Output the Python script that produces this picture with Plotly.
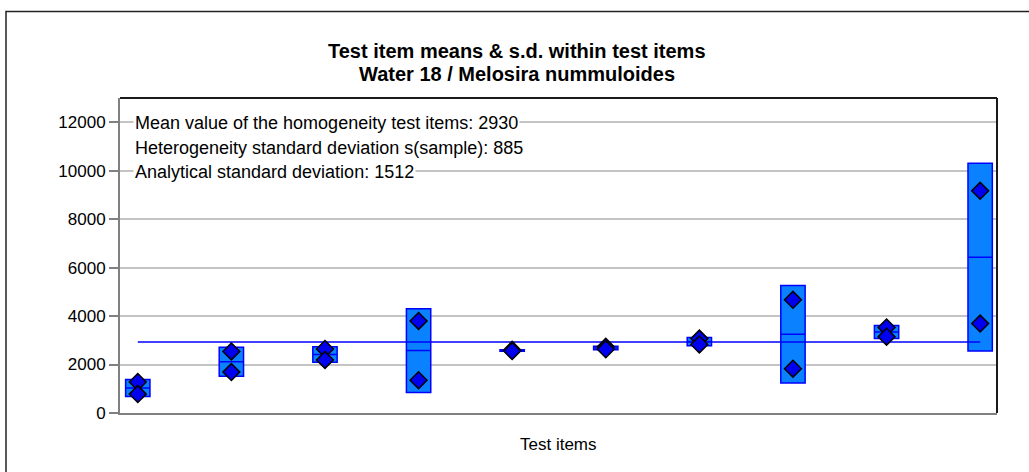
import numpy as np
import plotly.graph_objects as go

# Duplicate measurements per homogeneity test item
items = list(range(1, 11))
rep_a = [1280, 2540, 2640, 3800, 2605, 2730, 3070, 4670, 3530, 9170]
rep_b = [780, 1690, 2190, 1350, 2555, 2630, 2830, 1830, 3150, 3690]

grand_mean = 2930
stat_lines = [
    "Mean value of the homogeneity test items: 2930",
    "Heterogeneity standard deviation s(sample): 885",
    "Analytical standard deviation: 1512",
]
y_ticks = [0, 2000, 4000, 6000, 8000, 10000, 12000]

reps = np.array([rep_a, rep_b], dtype=float)
means = reps.mean(axis=0)
sds = reps.std(axis=0, ddof=1)

FONT = "Liberation Sans, Arial, sans-serif"
BOX_FILL = "#0A82FF"
BLUE = "#0000FF"

fig = go.Figure()

# mean +/- s.d. boxes with the item mean as the centre line
fig.add_trace(go.Box(
    x=items,
    q1=means - sds, median=means, q3=means + sds,
    lowerfence=means - sds, upperfence=means + sds,
    width=0.26,
    fillcolor=BOX_FILL,
    line=dict(color=BLUE, width=1.5),
    whiskerwidth=0,
    hoverinfo="skip",
    showlegend=False,
))

# overall mean of all test items
fig.add_trace(go.Scatter(
    x=[items[0], items[-1]], y=[grand_mean, grand_mean],
    mode="lines", line=dict(color=BLUE, width=1.5),
    showlegend=False, hoverinfo="skip",
))

# individual replicate results
fig.add_trace(go.Scatter(
    x=items + items, y=rep_a + rep_b,
    mode="markers",
    marker=dict(symbol="diamond", size=13, color="#0000F0",
                line=dict(color="#000000", width=1.5)),
    showlegend=False,
))

L, R, T, B = 120, 32, 98, 59
W, H = 1029, 472
pw, ph = W - L - R, H - T - B


def px_x(x):
    return (x - L) / pw


def px_y(y):
    return (H - B - y) / ph


annotations = []
for text, ypix in zip(stat_lines, [122.8, 147.5, 171.5]):
    annotations.append(dict(
        text=text, xref="paper", yref="paper",
        x=px_x(133), y=px_y(ypix), xanchor="left", yanchor="middle",
        showarrow=False, bgcolor="white", borderpad=1,
        font=dict(family=FONT, size=18, color="#000000"),
    ))

annotations += [
    dict(text="<b>Test item means & s.d. within test items</b>",
         xref="paper", yref="paper", x=px_x(517), y=px_y(50.5),
         xanchor="center", yanchor="middle", showarrow=False,
         font=dict(family=FONT, size=20, color="#000000")),
    dict(text="<b>Water 18 / Melosira nummuloides</b>",
         xref="paper", yref="paper", x=px_x(517), y=px_y(74),
         xanchor="center", yanchor="middle", showarrow=False,
         font=dict(family=FONT, size=20, color="#000000")),
    dict(text="Test items", xref="paper", yref="paper",
         x=0.5, y=px_y(444), xanchor="center", yanchor="middle",
         showarrow=False, font=dict(family=FONT, size=17, color="#000000")),
]

shapes = [
    # outer chart frame
    dict(type="rect", xref="paper", yref="paper",
         x0=px_x(6), x1=px_x(1040), y0=px_y(11.5), y1=px_y(490),
         line=dict(color="#222222", width=1.5), fillcolor="rgba(0,0,0,0)",
         layer="below"),
    # dark top and right plot borders
    dict(type="line", xref="paper", yref="paper", x0=0, x1=1, y0=1, y1=1,
         line=dict(color="#1A1A1A", width=2)),
    dict(type="line", xref="paper", yref="paper", x0=1, x1=1, y0=0, y1=1,
         line=dict(color="#1A1A1A", width=2)),
]

fig.update_layout(
    width=W, height=H,
    margin=dict(l=L, r=R, t=T, b=B, pad=0),
    paper_bgcolor="white", plot_bgcolor="white",
    font=dict(family=FONT, size=17, color="#000000"),
    annotations=annotations,
    shapes=shapes,
    showlegend=False,
)

fig.update_xaxes(
    range=[0.81, 10.18], showgrid=False, zeroline=False,
    showticklabels=False, ticks="",
    showline=True, linecolor="#808080", linewidth=2,
)
fig.update_yaxes(
    range=[0, 13000], tickvals=y_ticks,
    ticktext=[str(v) for v in y_ticks],
    showgrid=True, gridcolor="#C4C4C4", gridwidth=1.5,
    zeroline=False,
    ticks="outside", ticklen=9, tickcolor="#808080", tickwidth=1.5,
    showline=True, linecolor="#808080", linewidth=2,
    tickfont=dict(family=FONT, size=17, color="#000000"),
)

fig.write_html("out.html")
